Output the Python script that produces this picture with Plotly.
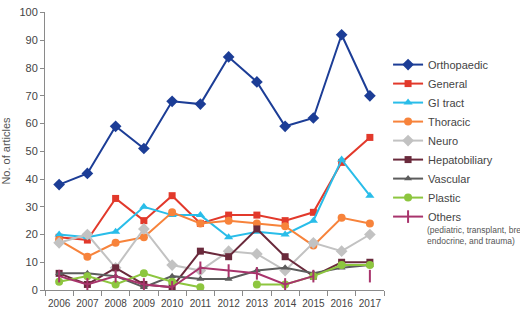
import plotly.graph_objects as go

years = ["2006", "2007", "2008", "2009", "2010", "2011", "2012", "2013", "2014", "2015", "2016", "2017"]

orthopaedic = [38, 42, 59, 51, 68, 67, 84, 75, 59, 62, 92, 70]
general = [19, 18, 33, 25, 34, 24, 27, 27, 25, 28, 46, 55]
gi_tract = [20, 19, 21, 30, 27, 27, 19, 21, 20, 25, 47, 34]
thoracic = [18, 12, 17, 19, 28, 24, 25, 24, 23, 16, 26, 24]
neuro = [17, 20, 8, 22, 9, 7, 14, 13, 7, 17, 14, 20]
hepatobiliary = [6, 2, 8, 2, 1, 14, 12, 22, 12, 5, 10, 10]
vascular = [6, 6, 5, 1, 5, 4, 4, 7, 8, 6, 8, 9]
plastic = [3, 5, 2, 6, 3, 1, None, 2, 2, 5, 9, 9]
others = [5, 2, 5, 2, 1, 8, 7, 6, 2, 5, None, 5]

y_ticks = [0, 10, 20, 30, 40, 50, 60, 70, 80, 90, 100]
others_note = "(pediatric, transplant, breast,<br>endocrine, and trauma)"

series = [
    ("Orthopaedic", orthopaedic, "#1c3d96", "diamond", 9),
    ("General", general, "#e2392b", "square", 7),
    ("GI tract", gi_tract, "#29bde9", "triangle-up", 8),
    ("Thoracic", thoracic, "#f7833b", "circle", 8),
    ("Neuro", neuro, "#c2c2c2", "diamond", 9),
    ("Hepatobiliary", hepatobiliary, "#6a2a3c", "square", 7),
    ("Vascular", vascular, "#5c5c5c", "triangle-up", 7),
    ("Plastic", plastic, "#8dc63f", "circle", 8),
    ("Others", others, "#a8346c", "line-ns-open", 9),
]

fig = go.Figure()
for name, vals, color, sym, size in series:
    fig.add_trace(go.Scatter(
        x=years, y=vals, name=name, mode="lines+markers",
        line=dict(color=color, width=2),
        marker=dict(symbol=sym, size=size, color=color,
                    line=dict(color=color, width=2 if sym == "line-ns-open" else 0)),
        connectgaps=False,
    ))

fig.add_annotation(
    xref="paper", yref="paper", x=1.12, y=0.241,
    xanchor="left", yanchor="top", align="left",
    text=others_note, showarrow=False,
    font=dict(size=8.5, color="#555"),
)

fig.update_layout(
    width=520, height=310,
    margin=dict(l=41, r=136, t=6, b=20),
    paper_bgcolor="white", plot_bgcolor="white",
    font=dict(family="Liberation Sans, Arial, sans-serif", size=11, color="#444"),
    showlegend=True,
    legend=dict(
        x=1.012, xanchor="left", y=0.863, yanchor="top",
        font=dict(size=11, color="#444"),
        itemwidth=30,
        bgcolor="rgba(0,0,0,0)", tracegroupgap=0,
    ),
    xaxis=dict(
        type="category", tickson="boundaries", tickangle=0,
        showline=True, linecolor="#8a8a8a", linewidth=1,
        ticks="outside", ticklen=5, tickcolor="#8a8a8a",
        showgrid=False, tickfont=dict(size=10, color="#444"),
        ticklabelstandoff=4, automargin=False,
        range=[-0.5, 11.5],
    ),
    yaxis=dict(
        range=[0, 100.2], tickvals=y_ticks,
        showline=True, linecolor="#8a8a8a", linewidth=1,
        ticks="outside", ticklen=4, tickcolor="#8a8a8a",
        showgrid=False, zeroline=False,
        tickfont=dict(size=11, color="#444"),
        title=dict(text="No. of articles", font=dict(size=11, color="#555"), standoff=6),
    ),
)

fig.write_html("out.html")
